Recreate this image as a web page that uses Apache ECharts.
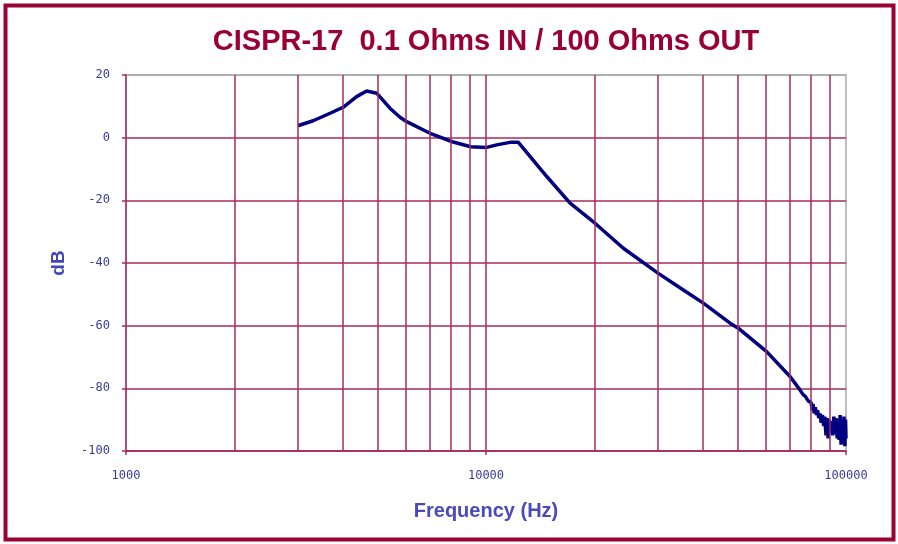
<!DOCTYPE html>
<html style="height: 100%">
<head>
    <meta charset="utf-8">
</head>
<body style="height: 100%; margin: 0">
    <div id="container" style="width: 898px; height: 544px;"></div>
    <script type="text/javascript" src="https://cdn.jsdelivr.net/npm/echarts@6/dist/echarts.min.js"></script>
    <script type="text/javascript">
        // measured response, frequency in Hz / level in dB
        var freq = [3000, 3310, 3690, 4010, 4370, 4660, 4970, 5410, 5770, 6020, 6990, 8060, 9070, 10040, 10710, 11660, 12300, 12430,
            14750, 17120, 20080, 24070, 30110, 35000, 40150, 47640, 50200, 60200, 69900, 74500, 76000, 77000, 77800, 78500, 79200,
            80000, 80500, 81000, 81600, 82200, 82800, 83400, 84000, 84700, 85300, 86000, 86700, 87300, 88000, 88600, 89200, 89800,
            90500, 91200, 91900, 92500, 93200, 93800, 94500, 95100, 95700, 96300, 96900, 97500, 98100, 98700, 99300, 99700, 100000];
        var db = [3.8, 5.4, 7.8, 9.7, 13.1, 14.9, 14.2, 9.4, 6.5, 5.1, 1.4, -1.3, -2.9, -3.1, -2.3, -1.5, -1.5, -1.6,
            -12.4, -20.9, -27.3, -35.3, -43.3, -48.3, -52.8, -59.2, -60.8, -68.3, -76.2, -80.5, -82, -82.5, -83, -84, -83.5,
            -84.5, -87, -85, -88, -86, -88.5, -87, -89.5, -88, -91, -88.5, -92, -89, -95, -89.5, -96, -90,
            -94, -90.5, -95, -89, -94.5, -89.5, -96, -90, -96.5, -88.5, -98, -90, -97, -89, -98.5, -90, -96];
        var gridFreqs = [2000, 3000, 4000, 5000, 6000, 7000, 8000, 9000, 10000, 20000, 30000, 40000, 50000, 60000, 70000, 80000, 90000];
        var titleText = 'CISPR-17  0.1 Ohms IN / 100 Ohms OUT';

        var maroon = '#a82a5c';
        var tickBlue = '#3a3a98';

        var dom = document.getElementById("container");
        var myChart = echarts.init(dom);

        var points = [];
        for (var i = 0; i < freq.length; i++) {
            points.push([freq[i], db[i]]);
        }
        var vLines = gridFreqs.map(function (f) { return { xAxis: f }; });

        var option = {
            animation: false,
            backgroundColor: '#fff',
            title: {
                text: titleText,
                left: 481,
                top: 22,
                textAlign: 'center',
                textStyle: {
                    fontFamily: 'Liberation Sans',
                    fontWeight: 'bold',
                    fontSize: 29,
                    color: '#990033'
                }
            },
            graphic: [{
                type: 'rect',
                shape: { x: 5.5, y: 5.5, width: 888, height: 534 },
                style: { fill: null, stroke: '#990033', lineWidth: 4 },
                silent: true
            }],
            grid: {
                left: 126, right: 52, top: 75, bottom: 93,
                show: true,
                borderColor: '#aaaaaa',
                borderWidth: 1.5
            },
            xAxis: {
                type: 'log',
                logBase: 10,
                min: 1000,
                max: 100000,
                name: 'Frequency (Hz)',
                nameLocation: 'middle',
                nameGap: 50,
                nameTextStyle: {
                    fontFamily: 'Liberation Sans',
                    fontWeight: 'bold',
                    fontSize: 20,
                    color: '#4a4ab8'
                },
                axisLine: { onZero: false, lineStyle: { color: maroon, width: 1.5 } },
                axisTick: { show: true, length: 4, lineStyle: { color: maroon, width: 1.5 } },
                axisLabel: {
                    margin: 19,
                    fontFamily: 'DejaVu Sans Mono',
                    fontSize: 12,
                    color: tickBlue,
                    formatter: function (v) { return String(Math.round(v)); }
                },
                splitLine: { show: false }
            },
            yAxis: {
                type: 'value',
                min: -100,
                max: 20,
                interval: 20,
                name: 'dB',
                nameLocation: 'middle',
                nameGap: 58,
                nameTextStyle: {
                    fontFamily: 'Liberation Sans',
                    fontWeight: 'bold',
                    fontSize: 19,
                    color: '#4444bb'
                },
                axisLine: { show: true, lineStyle: { color: maroon, width: 1.5 } },
                axisTick: { show: true, length: 4, lineStyle: { color: maroon, width: 1.5 } },
                axisLabel: {
                    margin: 16,
                    fontFamily: 'DejaVu Sans Mono',
                    fontSize: 12,
                    color: tickBlue
                },
                splitLine: {
                    show: true,
                    lineStyle: {
                        color: [maroon, maroon, maroon, maroon, maroon, maroon, '#aaaaaa'],
                        width: 1.5
                    }
                }
            },
            series: [{
                type: 'line',
                data: points,
                showSymbol: false,
                lineStyle: { color: '#000080', width: 3.5 },
                markLine: {
                    silent: true,
                    symbol: ['none', 'none'],
                    label: { show: false },
                    lineStyle: { color: maroon, width: 1.5, type: 'solid' },
                    data: vLines
                },
                z: 3
            }]
        };
        myChart.setOption(option, true);
    </script>
</body>
</html>
